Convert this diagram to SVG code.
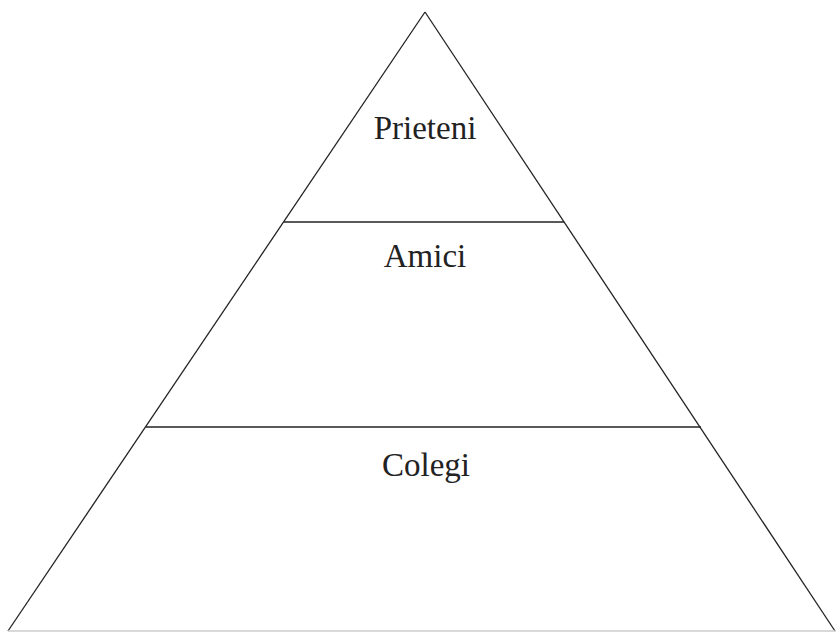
<svg xmlns="http://www.w3.org/2000/svg" width="836" height="632" viewBox="0 0 836 632">
<style>
.edge{stroke:#222;stroke-width:1.3;fill:none}
.lbl{font-family:"Liberation Serif","DejaVu Serif",serif;font-size:33px;fill:#222;text-anchor:middle}
</style>
<rect width="836" height="632" fill="#fff"/>
<g id="connectors">
<line class="edge" x1="8" y1="631" x2="425" y2="12"/>
<line class="edge" x1="425" y1="12" x2="835" y2="631"/>
<line x1="8" y1="631" x2="836" y2="631" stroke="#ccc" stroke-width="1.3"/>
<line class="edge" x1="284" y1="222" x2="564" y2="222"/>
<line class="edge" x1="146" y1="427" x2="701" y2="427"/>
</g>
<g id="prieteni"><text class="lbl" x="425" y="139">Prieteni</text></g>
<g id="amici"><text class="lbl" x="425" y="267">Amici</text></g>
<g id="colegi"><text class="lbl" x="426" y="476">Colegi</text></g>
</svg>
